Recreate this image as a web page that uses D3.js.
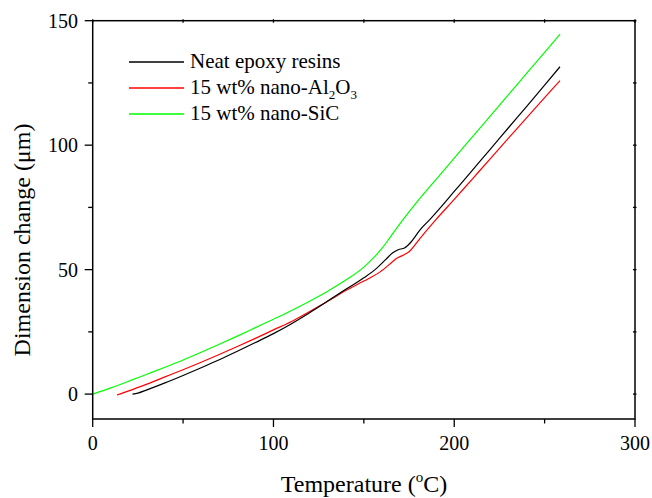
<!DOCTYPE html>
<html><head><meta charset="utf-8">
<script src="https://cdn.jsdelivr.net/npm/d3@7"></script>
<style>body{margin:0;background:#fff}svg{display:block}text{font-family:"Liberation Serif","Times New Roman",serif;fill:#000}</style>
</head><body><svg id="c" width="652" height="498"></svg>
<script>
// Data
const neatT = [22,25,30,40,50,60,70,80,90,100,110,120,130,140,150,157,162,166,169,172.5,176,181,186.6,192,200,210,220,230,240,250,258.5];
const neatV = [0,0.4,1.7,4.5,7.5,10.6,13.8,17.2,20.7,24.3,28.3,32.7,37.4,42.1,46.7,50.5,54,56.8,58,58.7,61,65.9,70.2,74.6,81.4,89.9,98.4,107,115.5,124.1,131.5];
const alT = [13.5,15,18,20,30,40,50,60,70,80,90,100,110,120,130,140,150,159,164,168,172,175,181,190,200,210,220,230,240,250,258.5];
const alV = [-0.3,0,0.8,1.3,4.0,6.9,9.8,12.8,15.9,19.1,22.4,25.8,29.2,33.2,37.3,41.6,45.4,49.1,52,54.5,55.9,57.2,62.5,70.2,78.2,86.4,94.6,102.8,111,119.1,125.9];
const sicT = [0,10,20,30,40,50,60,70,80,90,100,110,120,130,140,150,155,160,165,170,175,181,190,200,210,220,230,240,250,258.5];
const sicV = [0,2.5,5.2,8.0,10.8,13.7,16.8,20.0,23.3,26.7,30.1,33.6,37.3,41.3,45.8,51,54.5,58.5,63.5,68.5,73.2,78.6,86.3,94.8,103.3,111.8,120.3,128.8,137.3,144.6];
const seriesNames = ["Neat epoxy resins","15 wt% nano-Al2O3","15 wt% nano-SiC"];
const seriesColors = ["#000000","#ff0000","#00ff00"];
const xMajor = [0,100,200,300], xMinor = [50,150,250];
const yMajor = [0,50,100,150], yMinor = [25,75,125];

const svg = d3.select("#c");
const L = 92.7, R = 635, T = 20.7, B = 419;
const x = d3.scaleLinear().domain([0,300]).range([L,R]);
const y = d3.scaleLinear().domain([-10,150]).range([B,T]);

const series = [
  {name: seriesNames[0], color: seriesColors[0], pts: neatT.map((t,i)=>[t,neatV[i]])},
  {name: seriesNames[1], color: seriesColors[1], pts: alT.map((t,i)=>[t,alV[i]])},
  {name: seriesNames[2], color: seriesColors[2], pts: sicT.map((t,i)=>[t,sicV[i]])}
];
const line = d3.line().x(d=>x(d[0])).y(d=>y(d[1])).curve(d3.curveMonotoneX);
// draw order: green, red, black
[2,1,0].forEach(i=>{
  svg.append("path").attr("d", line(series[i].pts)).attr("fill","none")
    .attr("stroke", series[i].color).attr("stroke-width",1.2);
});

// Axes
const ax = svg.append("g").attr("stroke","#000").attr("stroke-width",1.5);
ax.append("rect").attr("x",L).attr("y",T).attr("width",R-L).attr("height",B-T).attr("fill","none");
const tk = svg.append("g").attr("stroke","#000").attr("stroke-width",1.3);
xMajor.forEach(v=>{ tk.append("line").attr("x1",x(v)).attr("x2",x(v)).attr("y1",B).attr("y2",B+8);
  tk.append("line").attr("x1",x(v)).attr("x2",x(v)).attr("y1",T-1.5).attr("y2",T+2); });
xMinor.forEach(v=>{ tk.append("line").attr("x1",x(v)).attr("x2",x(v)).attr("y1",B).attr("y2",B+4.5);
  tk.append("line").attr("x1",x(v)).attr("x2",x(v)).attr("y1",T-1.5).attr("y2",T+2); });
yMajor.forEach(v=>{ tk.append("line").attr("x1",L-8).attr("x2",L).attr("y1",y(v)).attr("y2",y(v));
  tk.append("line").attr("x1",R-2).attr("x2",R+1.5).attr("y1",y(v)).attr("y2",y(v)); });
yMinor.forEach(v=>{ tk.append("line").attr("x1",L-4.5).attr("x2",L).attr("y1",y(v)).attr("y2",y(v));
  tk.append("line").attr("x1",R-2).attr("x2",R+1.5).attr("y1",y(v)).attr("y2",y(v)); });

svg.append("g").selectAll("text").data(xMajor).join("text")
  .attr("x",d=>x(d)).attr("y",450).attr("text-anchor","middle").attr("font-size",20).text(d=>d);
svg.append("g").selectAll("text").data(yMajor).join("text")
  .attr("x",78).attr("y",d=>y(d)+7).attr("text-anchor","end").attr("font-size",20).text(d=>d);

// Axis titles
const xt = svg.append("text").attr("x",364).attr("y",492).attr("text-anchor","middle").attr("font-size",24);
xt.append("tspan").text("Temperature (");
xt.append("tspan").attr("font-size",15).attr("dy",-10).text("o");
xt.append("tspan").attr("dy",10).text("C)");
svg.append("text").attr("transform","translate(30,240) rotate(-90)").attr("text-anchor","middle")
  .attr("font-size",24).text("Dimension change (\u03bcm)");

// Legend
const rows = [68,94,120];
series.forEach((s,i)=>{
  svg.append("line").attr("x1",129).attr("x2",184).attr("y1",rows[i]-6).attr("y2",rows[i]-6)
    .attr("stroke",s.color).attr("stroke-width",1.3);
  const t = svg.append("text").attr("x",190).attr("y",rows[i]).attr("font-size",21);
  if (i===1) {
    t.append("tspan").text("15 wt% nano-Al");
    t.append("tspan").attr("font-size",13).attr("dy",5).text("2");
    t.append("tspan").attr("dy",-5).text("O");
    t.append("tspan").attr("font-size",13).attr("dy",5).text("3");
  } else t.text(s.name);
});
</script></body></html>
